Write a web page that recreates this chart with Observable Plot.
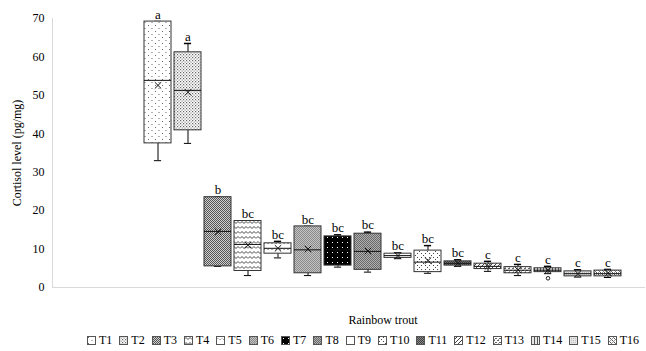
<!DOCTYPE html>
<html>
<head>
<meta charset="utf-8">
<script src="https://cdn.jsdelivr.net/npm/d3@7"></script>
<script src="https://cdn.jsdelivr.net/npm/@observablehq/plot@0.6"></script>
<style>
  body { margin: 0; background: #fff; font-family: "Liberation Serif", serif; }
  #wrap { width: 646px; height: 351px; position: relative; overflow: hidden; }
  #xlabel { position: absolute; left: 0; width: 766px; top: 313px; text-align: center; font-size: 12px; color: #000; font-family: "Liberation Serif", serif; }
  #legend { position: absolute; left: 0; width: 726px; top: 333px; display: flex; justify-content: center; gap: 7px; font-size: 12px; color: #000; font-family: "Liberation Serif", serif; }
  #legend .item { display: flex; align-items: center; gap: 3px; }
  #legend svg { display: block; }
</style>
</head>
<body>
<svg width="0" height="0" style="position:absolute">
  <defs>
    <pattern id="p1" patternUnits="userSpaceOnUse" width="7" height="6">
      <rect width="7" height="6" fill="#fff"/><rect x="1" y="1" width="1" height="1" fill="#666"/><rect x="4.5" y="4" width="1" height="1" fill="#666"/>
    </pattern>
    <pattern id="p2" patternUnits="userSpaceOnUse" width="3" height="3">
      <rect width="3" height="3" fill="#fff"/><rect x="0" y="0" width="1.2" height="1.2" fill="#666"/><rect x="1.5" y="1.5" width="1.2" height="1.2" fill="#888"/>
    </pattern>
    <pattern id="p3" patternUnits="userSpaceOnUse" width="2" height="2">
      <rect width="2" height="2" fill="#d0d0d0"/><rect x="0" y="0" width="1" height="1" fill="#555"/><rect x="1" y="1" width="1" height="1" fill="#555"/>
    </pattern>
    <pattern id="p4" patternUnits="userSpaceOnUse" width="8" height="5">
      <rect width="8" height="5" fill="#fff"/><path d="M0 3.5 L2 1.5 L4 3.5 L6 1.5 L8 3.5" fill="none" stroke="#333" stroke-width="0.9"/>
    </pattern>
    <pattern id="p5" patternUnits="userSpaceOnUse" width="8" height="6">
      <rect width="8" height="6" fill="#fff"/><path d="M0 4 L2 2 L4 4 L6 2 L8 4" fill="none" stroke="#555" stroke-width="0.8" stroke-dasharray="1 1"/>
    </pattern>
    <pattern id="p6" patternUnits="userSpaceOnUse" width="2" height="2">
      <rect width="2" height="2" fill="#c4c4c4"/><rect width="1" height="1" fill="#8a8a8a"/><rect x="1" y="1" width="1" height="1" fill="#8a8a8a"/>
    </pattern>
    <pattern id="p7" patternUnits="userSpaceOnUse" width="5" height="5">
      <rect width="5" height="5" fill="#000"/><rect x="2" y="2" width="1" height="1" fill="#fff"/>
    </pattern>
    <pattern id="p8" patternUnits="userSpaceOnUse" width="2" height="2">
      <rect width="2" height="2" fill="#b0b0b0"/><rect width="1" height="1" fill="#6a6a6a"/><rect x="1" y="1" width="1" height="1" fill="#6a6a6a"/>
    </pattern>
    <pattern id="p9" patternUnits="userSpaceOnUse" width="4" height="4">
      <rect width="4" height="4" fill="#fff"/>
    </pattern>
    <pattern id="p10" patternUnits="userSpaceOnUse" width="8" height="8">
      <rect width="8" height="8" fill="#fff"/><rect x="1" y="1" width="1" height="1" fill="#444"/><rect x="3" y="3" width="1" height="1" fill="#444"/><rect x="5" y="5" width="1" height="1" fill="#444"/><rect x="5" y="1" width="1" height="1" fill="#444"/><rect x="1" y="5" width="1" height="1" fill="#444"/><rect x="7" y="7" width="1" height="1" fill="#444"/>
    </pattern>
    <pattern id="p11" patternUnits="userSpaceOnUse" width="2" height="2">
      <rect width="2" height="2" fill="#8a8a8a"/><rect width="1" height="1" fill="#404040"/><rect x="1" y="1" width="1" height="1" fill="#404040"/>
    </pattern>
    <pattern id="p12" patternUnits="userSpaceOnUse" width="4" height="4">
      <rect width="4" height="4" fill="#fff"/><path d="M-1 5 L5 -1 M-1 1 L1 -1 M3 5 L5 3" stroke="#444" stroke-width="1"/>
    </pattern>
    <pattern id="p13" patternUnits="userSpaceOnUse" width="4" height="4">
      <rect width="4" height="4" fill="#fff"/><rect x="0" y="0" width="2" height="1" fill="#666"/><rect x="2" y="2" width="2" height="1" fill="#666"/><rect x="1" y="3" width="1" height="1" fill="#999"/>
    </pattern>
    <pattern id="p14" patternUnits="userSpaceOnUse" width="3" height="3">
      <rect width="3" height="3" fill="#e8e8e8"/><rect x="0" y="0" width="1" height="3" fill="#555"/>
    </pattern>
    <pattern id="p15" patternUnits="userSpaceOnUse" width="2" height="2">
      <rect width="2" height="2" fill="#e4e4e4"/><rect width="1" height="1" fill="#bdbdbd"/>
    </pattern>
    <pattern id="p16" patternUnits="userSpaceOnUse" width="4" height="4">
      <rect width="4" height="4" fill="#fff"/><rect x="0" y="0" width="1" height="1" fill="#555"/><rect x="2" y="2" width="1" height="1" fill="#555"/><rect x="2" y="0" width="1" height="1" fill="#999"/><rect x="0" y="2" width="1" height="1" fill="#999"/><rect x="1" y="1" width="1" height="1" fill="#777"/><rect x="3" y="3" width="1" height="1" fill="#777"/>
    </pattern>
  </defs>
</svg>
<div id="wrap">
  <div id="chart"></div>
  <div id="xlabel">Rainbow trout</div>
  <div id="legend"></div>
</div>
<script>
// ---- data ----
const series = ["T1","T2","T3","T4","T5","T6","T7","T8","T9","T10","T11","T12","T13","T14","T15","T16"];
const lowWhisker  = [33.0, 37.5, 5.5, 3.1, 7.7, 3.1, 5.3, 4.0, 7.5, 3.7, 5.5, 4.2, 3.1, 3.6, 2.7, 2.6];
const q1          = [37.5, 40.9, 5.5, 4.3, 8.8, 3.7, 5.7, 4.6, 7.7, 4.0, 5.7, 4.8, 3.7, 4.0, 2.9, 2.9];
const medians     = [53.9, 51.3, 14.6, 11.2, 10.2, 9.8, 9.8, 9.4, 8.3, 6.6, 6.3, 5.5, 4.5, 4.5, 3.6, 3.6];
const q3          = [69.2, 61.2, 23.5, 17.3, 11.5, 15.9, 13.3, 14.0, 8.8, 9.6, 6.8, 6.2, 5.3, 5.0, 4.2, 4.4];
const highWhisker = [69.2, 63.5, 23.5, 17.3, 12.0, 15.9, 13.7, 14.4, 9.0, 10.9, 7.2, 6.8, 6.0, 5.5, 4.6, 4.7];
const means       = [52.6, 50.8, 14.5, 11.0, 10.2, 10.0, 10.0, 9.5, 8.3, 7.0, 6.3, 5.5, 4.6, 4.5, 3.6, 3.7];
const letters     = ["a","a","b","bc","bc","bc","bc","bc","bc","bc","bc","c","c","c","c","c"];
const outlierSeries = ["T14"];
const outlierValues = [2.4];
const yTicks = [0, 10, 20, 30, 40, 50, 60, 70];
const categoryLabel = "Rainbow trout";
const yLabel = "Cortisol level (pg/mg)";

const patternOf = (s) => `url(#p${series.indexOf(s) + 1})`;

const rows = series.map((s, i) => ({
  s, lo: lowWhisker[i], q1: q1[i], med: medians[i], q3: q3[i], hi: highWhisker[i],
  mean: means[i], letter: letters[i], fill: patternOf(s)
}));
const outliers = outlierSeries.map((s, i) => ({ s, v: outlierValues[i] }));

const bw = 27.8;
const capInset = (bw - 8) / 2;

const chart = Plot.plot({
  width: 646,
  height: 300,
  marginLeft: 52,
  marginRight: 1,
  marginTop: 18,
  marginBottom: 13,
  style: { fontFamily: "'Liberation Serif', serif", fontSize: "12px", color: "#000", background: "#fff" },
  x: { type: "band", domain: series, range: [137, 628], paddingInner: 0.1, paddingOuter: 0, axis: null },
  y: { domain: [0, 70], ticks: yTicks, tickSize: 0, tickPadding: 8, label: yLabel, labelAnchor: "center", labelOffset: 40, labelArrow: "none" },
  color: { type: "identity" },
  marks: [
    Plot.ruleY([0], { stroke: "#d9d9d9", strokeWidth: 1 }),
    Plot.frame({ anchor: "left", stroke: "#d9d9d9" }),
    Plot.ruleX(rows, { x: "s", y1: "lo", y2: "q1", stroke: "#000", strokeWidth: 1 }),
    Plot.ruleX(rows, { x: "s", y1: "q3", y2: "hi", stroke: "#000", strokeWidth: 1 }),
    Plot.tickY(rows, { x: "s", y: "lo", stroke: "#000", insetLeft: capInset, insetRight: capInset }),
    Plot.tickY(rows, { x: "s", y: "hi", stroke: "#000", strokeWidth: 1.5, insetLeft: capInset, insetRight: capInset }),
    Plot.barY(rows, { x: "s", y1: "q1", y2: "q3", fill: "fill", stroke: "#333", strokeWidth: 1 }),
    Plot.tickY(rows, { x: "s", y: "med", stroke: "#111", strokeWidth: 1 }),
    Plot.dot(rows, { x: "s", y: "mean", symbol: "times", r: 3, stroke: "#111", strokeWidth: 1 }),
    Plot.dot(outliers, { x: "s", y: "v", r: 1.8, stroke: "#222", strokeWidth: 1, fill: "#fff" }),
    Plot.text(rows, { x: "s", y: "hi", text: "letter", dy: -7, fontSize: 13, fill: "#000" })
  ]
});
document.getElementById("chart").appendChild(chart);
document.getElementById("xlabel").textContent = categoryLabel;

const legend = document.getElementById("legend");
series.forEach((s) => {
  const item = document.createElement("div");
  item.className = "item";
  item.innerHTML = `<svg width="9" height="9"><rect x="0.5" y="0.5" width="8" height="8" fill="${patternOf(s)}" stroke="#555" stroke-width="1"/></svg><span>${s}</span>`;
  legend.appendChild(item);
});
</script>
</body>
</html>
